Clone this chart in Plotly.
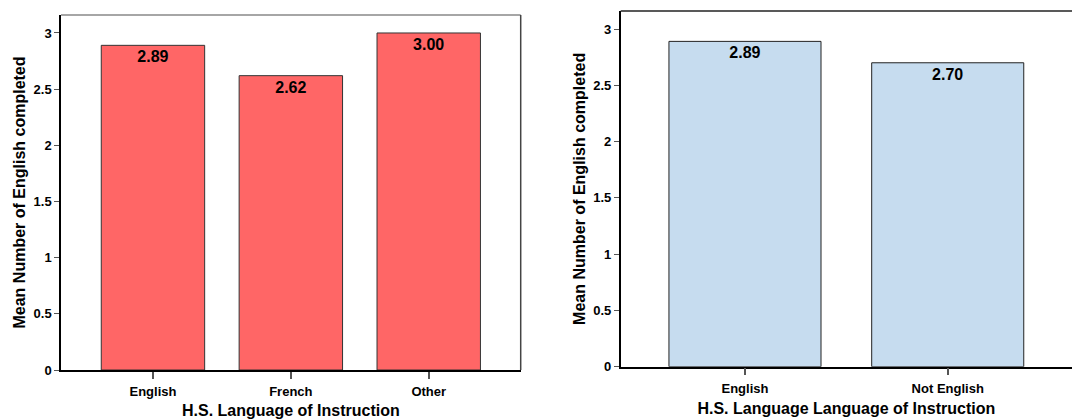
import plotly.graph_objects as go

# Mean number of English courses completed, by high-school language of instruction
cats_left = ["English", "French", "Other"]
means_left = [2.89, 2.62, 3.00]

cats_right = ["English", "Not English"]
means_right = [2.89, 2.70]

y_ticks = [0, 0.5, 1, 1.5, 2, 2.5, 3]
y_tick_text = ["0", "0.5", "1", "1.5", "2", "2.5", "3"]

W, H = 1072, 419
FONT = "Liberation Sans, Arial, sans-serif"
BOLD = dict(family=FONT, color="black", weight="bold")


def px_x(p):
    return p / W


def px_y(p):
    return (H - p) / H


fig = go.Figure()

fig.add_trace(go.Bar(
    x=cats_left, y=means_left, width=0.75,
    marker=dict(color="#FF6666", line=dict(color="#333333", width=1)),
    text=[f"{v:.2f}" for v in means_left], textposition="inside",
    insidetextanchor="end", textangle=0,
    textfont=dict(size=16, **BOLD),
    xaxis="x", yaxis="y", showlegend=False,
))

fig.add_trace(go.Bar(
    x=cats_right, y=means_right, width=0.75,
    marker=dict(color="#C6DCEF", line=dict(color="#222222", width=1)),
    text=[f"{v:.2f}" for v in means_right], textposition="inside",
    insidetextanchor="end", textangle=0,
    textfont=dict(size=16, **BOLD),
    xaxis="x2", yaxis="y2", showlegend=False,
))

common_x = dict(
    showline=True, linecolor="black", linewidth=1.5,
    ticks="outside", ticklen=7, tickcolor="#555555", tickwidth=1.5,
    ticklabelstandoff=2,
    tickfont=dict(size=13, **BOLD),
    showgrid=False, zeroline=False, automargin=False,
)
common_y = dict(
    showline=True, linecolor="black", linewidth=1.5,
    ticks="outside", ticklen=5, tickcolor="#555555",
    tickvals=y_ticks, ticktext=y_tick_text,
    tickfont=dict(size=13, **BOLD),
    showgrid=False, zeroline=False, range=[0, 3.16], automargin=False,
)
title_font = dict(size=16, **BOLD)

fig.update_layout(
    width=W, height=H,
    margin=dict(l=0, r=0, t=0, b=0),
    paper_bgcolor="white", plot_bgcolor="white",
    xaxis=dict(domain=[px_x(61), px_x(520.7)], range=[-0.667, 2.667],
               anchor="y",
               title=dict(text="H.S. Language of Instruction", standoff=8,
                          font=title_font),
               **common_x),
    yaxis=dict(domain=[px_y(370), px_y(15)], anchor="x",
               title=dict(text="Mean Number of English completed", standoff=4,
                          font=title_font),
               **common_y),
    xaxis2=dict(domain=[px_x(620.7), 1.0], range=[-0.613, 1.613],
                anchor="y2",
                title=dict(text="H.S. Language Language of Instruction", standoff=8,
                           font=title_font),
                **common_x),
    yaxis2=dict(domain=[px_y(366.7), px_y(11)], anchor="x2",
                title=dict(text="Mean Number of English completed", standoff=4,
                           font=title_font),
                **common_y),
)

# frame lines: top and right edges of the plotting areas
fig.add_shape(type="line", xref="x domain", yref="y domain",
              x0=0, x1=1, y0=1, y1=1, line=dict(color="#888888", width=1.5))
fig.add_shape(type="line", xref="x domain", yref="y domain",
              x0=1, x1=1, y0=0, y1=1, line=dict(color="#444444", width=1.5))
fig.add_shape(type="line", xref="x2 domain", yref="y2 domain",
              x0=0, x1=1, y0=1, y1=1, line=dict(color="#222222", width=1.5))

fig.write_html("out.html")
